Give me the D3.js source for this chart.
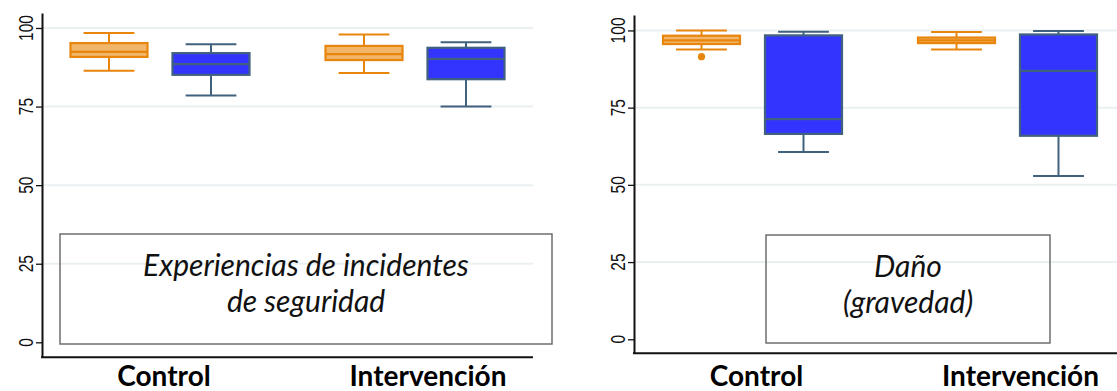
<!DOCTYPE html>
<html>
<head>
<meta charset="utf-8">
<script src="https://cdn.jsdelivr.net/npm/d3@7"></script>
<style>
  html, body { margin: 0; padding: 0; background: #fff; }
  svg { display: block; }
  .ylab { transform-box: view-box; }
</style>
</head>
<body>
<svg id="chart" width="1117" height="391"></svg>
<script>
// Categories and the two series plotted in each category
const categories = ["Control", "Intervención"];
const series = ["pre", "post"];
const yTicks = [0, 25, 50, 75, 100];

// Box statistics, ordered: Control-pre, Control-post, Intervención-pre, Intervención-post
// Panel 1: Experiencias de incidentes de seguridad
const expLow    = [86.4, 78.5, 85.7, 75.0];
const expQ1     = [90.8, 85.1, 89.8, 83.7];
const expMedian = [92.4, 88.5, 91.7, 90.2];
const expQ3     = [95.2, 92.0, 94.3, 93.7];
const expHigh   = [98.4, 94.8, 97.9, 95.5];
const expOut    = [[], [], [], []];

// Panel 2: Daño (gravedad)
const danoLow    = [93.8, 60.6, 93.8, 52.9];
const danoQ1     = [95.6, 66.5, 95.9, 65.9];
const danoMedian = [96.8, 71.3, 96.8, 86.9];
const danoQ3     = [98.3, 98.4, 97.7, 98.7];
const danoHigh   = [100.0, 99.6, 99.5, 99.8];
const danoOut    = [[91.5], [], [], []];

const panelTitles = [
  ["Experiencias de incidentes", "de seguridad"],
  ["Daño", "(gravedad)"]
];

const styles = {
  pre:  { fill: "#f2b66b", stroke: "#e8850c", whisker: "#e8850c" },
  post: { fill: "#3434ff", stroke: "#41627f", whisker: "#41627f" }
};

// horizontal nudge of each category label relative to its group centre
const labelShift = { "Control": 4, "Intervención": 13 };

function buildRows(low, q1, med, q3, high, out) {
  const rows = [];
  categories.forEach((c, i) => {
    series.forEach((s, j) => {
      const k = i * series.length + j;
      rows.push({ cat: c, ser: s, low: low[k], q1: q1[k], med: med[k], q3: q3[k], high: high[k], out: out[k] });
    });
  });
  return rows;
}

const panels = [
  {
    rows: buildRows(expLow, expQ1, expMedian, expQ3, expHigh, expOut),
    title: panelTitles[0],
    axisX: 42, axisTop: 13, axisBottom: 357.3, right: 533,
    yDomain: [-4.77, 104.77],
    groups: [160, 415],
    note: { x0: 60, x1: 552, y0: 234, y1: 344 }
  },
  {
    rows: buildRows(danoLow, danoQ1, danoMedian, danoQ3, danoHigh, danoOut),
    title: panelTitles[1],
    axisX: 634, axisTop: 15, axisBottom: 353.3, right: 1117,
    yDomain: [-4.54, 105.0],
    groups: [752.5, 1007.5],
    note: { x0: 766, x1: 1050, y0: 235, y1: 343 }
  }
];

const svg = d3.select("#chart");

panels.forEach(p => {
  const g = svg.append("g");

  const y = d3.scaleLinear().domain(p.yDomain).range([p.axisBottom, p.axisTop]);
  const x = d3.scalePoint().domain(categories).range(p.groups);
  const inner = d3.scaleBand().domain(series).range([-89.5, 89.5]).paddingInner(0.245).paddingOuter(0);
  const bw = inner.bandwidth();
  const capW = bw * 0.66;

  // horizontal grid lines
  g.append("g").selectAll("line")
    .data(yTicks.filter(t => t > 0))
    .join("line")
    .attr("x1", p.axisX).attr("x2", p.right)
    .attr("y1", d => y(d)).attr("y2", d => y(d))
    .attr("stroke", "#eaf0f2").attr("stroke-width", 2);

  // box plots
  const box = g.append("g").selectAll("g")
    .data(p.rows)
    .join("g")
    .attr("transform", d => `translate(${x(d.cat) + inner(d.ser) + bw / 2},0)`);

  // whisker stems
  box.append("line")
    .attr("x1", 0).attr("x2", 0)
    .attr("y1", d => y(d.high)).attr("y2", d => y(d.q3))
    .attr("stroke", d => styles[d.ser].whisker).attr("stroke-width", 2);
  box.append("line")
    .attr("x1", 0).attr("x2", 0)
    .attr("y1", d => y(d.q1)).attr("y2", d => y(d.low))
    .attr("stroke", d => styles[d.ser].whisker).attr("stroke-width", 2);
  // caps
  box.append("line")
    .attr("x1", -capW / 2).attr("x2", capW / 2)
    .attr("y1", d => y(d.high)).attr("y2", d => y(d.high))
    .attr("stroke", d => styles[d.ser].whisker).attr("stroke-width", 2);
  box.append("line")
    .attr("x1", -capW / 2).attr("x2", capW / 2)
    .attr("y1", d => y(d.low)).attr("y2", d => y(d.low))
    .attr("stroke", d => styles[d.ser].whisker).attr("stroke-width", 2);
  // interquartile box
  box.append("rect")
    .attr("x", -bw / 2).attr("width", bw)
    .attr("y", d => y(d.q3)).attr("height", d => y(d.q1) - y(d.q3))
    .attr("fill", d => styles[d.ser].fill)
    .attr("stroke", d => styles[d.ser].stroke).attr("stroke-width", 2.2);
  // median
  box.append("line")
    .attr("x1", -bw / 2).attr("x2", bw / 2)
    .attr("y1", d => y(d.med)).attr("y2", d => y(d.med))
    .attr("stroke", d => styles[d.ser].stroke).attr("stroke-width", 2.2);
  // outside values
  box.selectAll("circle")
    .data(d => d.out.map(v => ({ v, ser: d.ser })))
    .join("circle")
    .attr("cx", 0).attr("cy", d => y(d.v)).attr("r", 3.6)
    .attr("fill", d => styles[d.ser].stroke);

  // y axis line and tick marks
  const yAxis = d3.axisLeft(y).tickValues(yTicks).tickSize(6).tickSizeOuter(0).tickFormat(() => "");
  const ax = g.append("g").attr("transform", `translate(${p.axisX},0)`).call(yAxis);
  ax.select(".domain").attr("stroke", "#111").attr("stroke-width", 2);
  ax.selectAll(".tick line").attr("stroke", "#111").attr("stroke-width", 1.3);
  ax.selectAll(".tick text").remove();

  // tick labels, turned a quarter counter-clockwise so they read upwards
  g.append("g").selectAll("text")
    .data(yTicks)
    .join("text")
    .attr("class", "ylab")
    .attr("x", 0).attr("y", 0)
    .attr("text-anchor", "middle")
    .attr("fill", "#111")
    .style("font-family", "'Liberation Sans', Arial, sans-serif")
    .style("font-size", "21px")
    .style("transform-origin", "0px 0px")
    .style("transform", d => `translate(${p.axisX - 9}px, ${y(d)}px) rotate(-90deg) scale(0.74, 1)`)
    .text(d => d);

  // x axis line
  g.append("line")
    .attr("x1", p.axisX - 1).attr("x2", p.right)
    .attr("y1", p.axisBottom).attr("y2", p.axisBottom)
    .attr("stroke", "#111").attr("stroke-width", 2);

  // annotation box with the panel title
  const n = p.note;
  g.append("rect")
    .attr("x", n.x0).attr("y", n.y0)
    .attr("width", n.x1 - n.x0).attr("height", n.y1 - n.y0)
    .attr("fill", "none").attr("stroke", "#6e6e6e").attr("stroke-width", 1.5);
  const cx = (n.x0 + n.x1) / 2;
  p.title.forEach((line, i) => {
    g.append("text")
      .attr("x", cx).attr("y", n.y0 + 42 + i * 36)
      .attr("text-anchor", "middle")
      .style("font-family", "Lato, 'Open Sans', sans-serif")
      .style("font-style", "italic")
      .style("font-size", "30px")
      .attr("fill", "#111")
      .text(line);
  });

  // category labels
  g.append("g").selectAll("text")
    .data(categories)
    .join("text")
    .attr("x", d => x(d) + labelShift[d])
    .attr("y", 386)
    .attr("text-anchor", "middle")
    .style("font-family", "Lato, 'Open Sans', sans-serif")
    .style("font-weight", "bold")
    .style("font-size", "28px")
    .attr("fill", "#000")
    .text(d => d);
});
</script>
</body>
</html>
